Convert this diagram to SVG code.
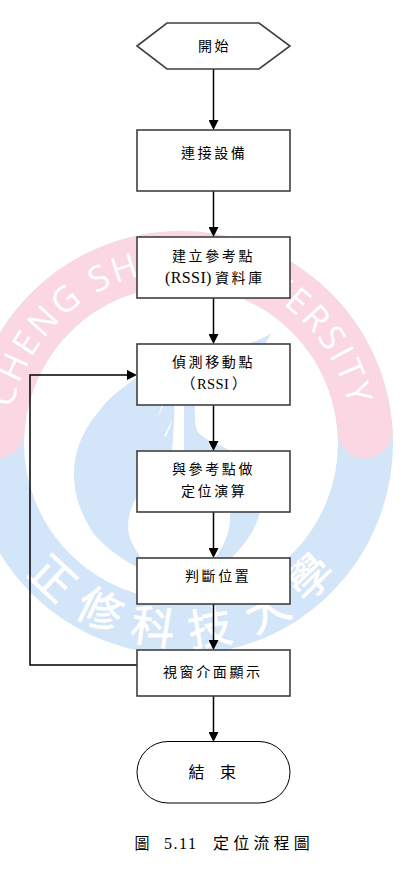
<svg xmlns="http://www.w3.org/2000/svg" width="415" height="883" viewBox="0 0 415 883">
<style>
.n{fill:#fff;stroke:#404040;stroke-width:1.6}
.c{fill:none;stroke:#000;stroke-width:1.5}
.t{font-family:"Noto Sans CJK TC","Liberation Serif",sans-serif;font-size:14px;letter-spacing:2.6px;fill:#000}
.l{font-family:"Liberation Serif","Noto Sans CJK TC",serif;font-size:14.500px;fill:#000}
.w{font-family:"Noto Sans CJK TC",sans-serif;font-size:44px;fill:#fff;stroke:#fff;stroke-width:.7;text-anchor:middle}
</style>
<defs>
<marker id="a" markerUnits="userSpaceOnUse" markerWidth="10" markerHeight="10" refX="5" refY="5" orient="auto"><path d="M0 0L10 5L0 10Z" fill="#000"/></marker>
<path id="arcb" d="M9 443A172 172 0 0 1 353 443"/>
</defs>
<rect width="415" height="883" fill="#fff"/>
<g id="watermark">
<circle cx="181" cy="443" r="184.5" fill="none" stroke="#d3e5f8" stroke-width="55"/>
<path d="M-3.1 431A184.5 184.5 0 0 1 365.1 431" fill="none" stroke="#fbd6e3" stroke-width="55" stroke-linecap="round"/>
<text font-family="'Open Sans',sans-serif" font-size="35" letter-spacing="2.9" fill="#fff" text-anchor="middle"><textPath href="#arcb" startOffset="50%">CHENG SHIU UNIVERSITY</textPath></text>
<path fill="#d3e5f8" d="M272 333C268 338 266 342 265 346L265 400L195 400C195 415 194 425 198 432C205 441 220 444 230 451L260 455L260 512C256 528 246 544 231 558L225 562L215 562L215 558C225 545 231 530 230 512L230 505L145 490L137 497C128 510 125 530 132 543C134 547 136 550 141 558L145 562L137 567C122 560 104 546 93 533C80 512 74 495 74 473C74 450 84 428 100 410C108 398 120 390 137 377L150 350L245 344C255 342 264 338 272 333Z"/>
<path fill="#fff" d="M174 403L184 403L184 452L172 452C173 435 175 420 174 403Z"/>
<path fill="#fff" d="M162 404L164 404L158 417Z"/>
<path fill="#fff" d="M172 420L171 424L166 437L164 436Z"/>
<text class="w" y="16" transform="translate(53 578) rotate(43)">正</text>
<text class="w" y="16" transform="translate(100 610) rotate(26)">修</text>
<text class="w" y="16" transform="translate(153 627) rotate(9)">科</text>
<text class="w" y="16" transform="translate(210 628) rotate(-9)">技</text>
<text class="w" y="16" transform="translate(267 610) rotate(-27)">大</text>
<text class="w" y="16" transform="translate(310 577) rotate(-44)">學</text>
</g>
<g id="connectors">
<path class="c" marker-end="url(#a)" d="M213.500 69V125"/>
<path class="c" marker-end="url(#a)" d="M213.500 191V232"/>
<path class="c" marker-end="url(#a)" d="M213.500 298V339"/>
<path class="c" marker-end="url(#a)" d="M213.500 405V446"/>
<path class="c" marker-end="url(#a)" d="M213.500 512V553"/>
<path class="c" marker-end="url(#a)" d="M213.500 604V645"/>
<path class="c" marker-end="url(#a)" d="M213.500 696V737"/>
<path class="c" marker-end="url(#a)" d="M137 665H30V375H132"/>
</g>
<g id="start"><polygon class="n" points="137,46 167,23 259,23 290,46 259,69 167,69"/><text class="t" x="198" y="51">開始</text></g>
<g id="connect"><rect class="n" x="137" y="130" width="153" height="61"/><text class="t" x="181" y="158">連接設備</text></g>
<g id="build"><rect class="n" x="137" y="237" width="153" height="61"/><text class="t" x="172" y="261">建立參考點</text><text class="l" style="font-size:16px;letter-spacing:.4px" x="165" y="283">(RSSI)</text><text class="t" x="215" y="283">資料庫</text></g>
<g id="detect"><rect class="n" x="137" y="344" width="153" height="61"/><text class="t" x="172" y="367">偵測移動點</text><text class="l" y="389"><tspan x="181">（</tspan><tspan x="197" style="letter-spacing:.4px">RSSI</tspan><tspan x="232">）</tspan></text></g>
<g id="locate"><rect class="n" x="137" y="451" width="153" height="61"/><text class="t" x="172" y="474">與參考點做</text><text class="t" x="181" y="496">定位演算</text></g>
<g id="judge"><rect class="n" x="137" y="558" width="153" height="46"/><text class="t" x="185" y="581">判斷位置</text></g>
<g id="display"><rect class="n" x="137" y="650" width="153" height="46"/><text class="t" x="163" y="677">視窗介面顯示</text></g>
<g id="end"><rect x="137" y="741.500" width="153" height="61.500" rx="31" fill="#fff" stroke="#000" stroke-width="1"/><text class="t" style="font-size:16px" x="188.500" y="778">結</text><text class="t" style="font-size:16px" x="220" y="778">束</text></g>
<g id="caption"><text class="t" style="font-size:15px" x="134.500" y="849">圖</text><text class="l" style="font-size:16px;letter-spacing:1.500px" x="164" y="849">5.11</text><text class="t" style="font-size:16px;letter-spacing:4.200px" x="213" y="849">定位流程圖</text></g>
</svg>
